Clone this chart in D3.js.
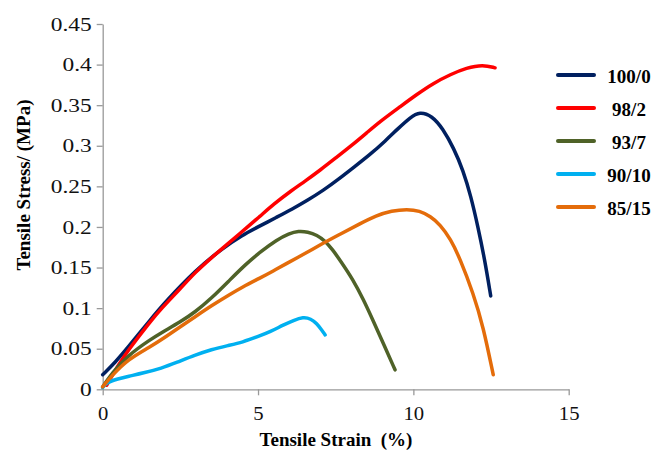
<!DOCTYPE html>
<html>
<head>
<meta charset="utf-8">
<script src="https://cdn.jsdelivr.net/npm/d3@7"></script>
<style>
    body { margin: 0; background: #fff; }
    svg { display: block; font-family: "Liberation Serif", "Times New Roman", serif; }
    .axis path, .axis line { stroke: #999; stroke-width: 1.3; }
    .axis text { font-family: "Liberation Serif", "Times New Roman", serif; font-size: 18px; fill: #111; }
</style>
</head>
<body>
<div id="chart"></div>
<script>
// series labels and colours (legend order)
const seriesNames = ['100/0', '98/2', '93/7', '90/10', '85/15'];
const seriesColors = ['#002060', '#ff0000', '#4f6228', '#00b0f0', '#e46c0a'];

// [strain %, stress MPa]
const pts100_0 = [[0, 0.018], [0.4, 0.033], [0.82, 0.052], [1.52, 0.085], [2, 0.107], [3, 0.147], [3.83, 0.173],
    [4.5, 0.19], [5, 0.2], [5.6, 0.212], [6.1, 0.222], [6.6, 0.233], [7.1, 0.245], [7.6, 0.259],
    [8.1, 0.274], [8.6, 0.289], [9.1, 0.306], [9.5, 0.321], [9.9, 0.335], [10.2, 0.342], [10.6, 0.337],
    [10.95, 0.321], [11.3, 0.297], [11.6, 0.27], [11.85, 0.238], [12.08, 0.2], [12.3, 0.159], [12.49, 0.115]];
const pts98_2 = [[0.13, 0.005], [0.5, 0.03], [0.82, 0.048], [1.52, 0.083], [1.9, 0.1], [2.5, 0.124], [3, 0.145],
    [3.5, 0.162], [3.83, 0.173], [4.3, 0.188], [4.6, 0.198], [5.06, 0.213], [5.5, 0.228], [6.08, 0.245], [6.5, 0.256],
    [7, 0.27], [7.5, 0.285], [8, 0.3], [8.5, 0.316], [8.93, 0.33], [9.57, 0.348], [10.1, 0.363], [10.64, 0.377],
    [11.2, 0.388], [11.71, 0.396], [12.24, 0.4], [12.63, 0.396]];
const pts93_7 = [[0, 0.003], [0.3, 0.02], [0.82, 0.042], [1.52, 0.061], [1.9, 0.07], [2.5, 0.083], [2.97, 0.095],
    [3.5, 0.112], [4.1, 0.135], [4.63, 0.155], [5.1, 0.17], [5.6, 0.184], [6, 0.192], [6.3, 0.195], [6.6, 0.194],
    [6.9, 0.19], [7.15, 0.183], [7.4, 0.172], [7.64, 0.159], [8.06, 0.135], [8.4, 0.11], [8.7, 0.085],
    [9.05, 0.055], [9.41, 0.024]];
const pts90_10 = [[0, 0.002], [0.1, 0.008], [0.5, 0.013], [0.82, 0.016], [1.3, 0.02], [1.9, 0.026], [2.38, 0.033],
    [2.97, 0.042], [3.5, 0.049], [4.04, 0.054], [4.5, 0.058], [5, 0.065], [5.4, 0.071], [5.8, 0.079], [6.15, 0.085],
    [6.45, 0.089], [6.7, 0.087], [6.89, 0.081], [7.05, 0.073], [7.16, 0.067]];
const pts85_15 = [[0, 0.003], [0.3, 0.017], [0.82, 0.037], [1.52, 0.052], [2, 0.064], [2.5, 0.077], [3, 0.09],
    [3.5, 0.103], [4.1, 0.117], [4.5, 0.126], [5.06, 0.137], [5.5, 0.146], [5.87, 0.154], [6.5, 0.167], [7, 0.178],
    [7.64, 0.191], [8.28, 0.204], [8.8, 0.214], [9.3, 0.22], [9.8, 0.222], [10.2, 0.22], [10.55, 0.213],
    [10.86, 0.203], [11.2, 0.185], [11.5, 0.161], [11.93, 0.118], [12.25, 0.077], [12.57, 0.018]];
const seriesPoints = [pts100_0, pts98_2, pts93_7, pts90_10, pts85_15];

// axis ticks
const xTicks = [0, 5, 10, 15];
const yTicks = [0, 0.05, 0.1, 0.15, 0.2, 0.25, 0.3, 0.35, 0.4, 0.45];
const yTickLabels = ['0', '0.05', '0.1', '0.15', '0.2', '0.25', '0.3', '0.35', '0.4', '0.45'];

const width = 655, height = 451;

const svg = d3.select('#chart').append('svg')
    .attr('width', width)
    .attr('height', height);

const x = d3.scaleLinear().domain([0, 15]).range([102.7, 568.7]);
const y = d3.scaleLinear().domain([0, 0.45]).range([389.3, 24]);

// x axis
const xAxis = svg.append('g')
    .attr('class', 'axis')
    .attr('transform', 'translate(0,' + y(0) + ')')
    .call(d3.axisBottom(x).tickValues(xTicks).tickSize(6).tickSizeOuter(0).tickFormat(d3.format('d')));
xAxis.selectAll('text')
    .attr('y', 31).attr('dy', 0)
    .attr('transform', 'scale(1.15,1)');

// y axis
const yAxis = svg.append('g')
    .attr('class', 'axis')
    .attr('transform', 'translate(' + x(0) + ',0)')
    .call(d3.axisLeft(y).tickValues(yTicks).tickSize(6).tickSizeOuter(0)
        .tickFormat((d, i) => yTickLabels[i]));
yAxis.selectAll('text')
    .attr('x', -11 / 1.3)
    .attr('dy', '0.34em')
    .attr('transform', 'scale(1.3,1)');

// curves
const line = d3.line()
    .x(d => x(d[0]))
    .y(d => y(d[1]))
    .curve(d3.curveBasis);

svg.append('g').selectAll('path')
    .data(seriesPoints)
    .join('path')
    .attr('d', line)
    .attr('fill', 'none')
    .attr('stroke', (d, i) => seriesColors[i])
    .attr('stroke-width', 3.5)
    .attr('stroke-linecap', 'round')
    .attr('stroke-linejoin', 'round');

// legend
const legend = svg.append('g');
seriesNames.forEach((name, i) => {
    const ly = 75 + i * 33;
    legend.append('line')
        .attr('x1', 558).attr('x2', 594)
        .attr('y1', ly).attr('y2', ly)
        .attr('stroke', seriesColors[i])
        .attr('stroke-width', 4)
        .attr('stroke-linecap', 'round');
    legend.append('text')
        .attr('x', 629).attr('y', ly + 8)
        .attr('text-anchor', 'middle')
        .style('font-size', '19px')
        .style('font-weight', 'bold')
        .text(name);
});

// axis titles
svg.append('text')
    .attr('x', 336).attr('y', 446)
    .attr('text-anchor', 'middle')
    .style('font-size', '19px')
    .style('font-weight', 'bold')
    .style('white-space', 'pre')
    .text('Tensile Strain  (%)');

svg.append('text')
    .attr('transform', 'translate(30,185) rotate(-90)')
    .attr('text-anchor', 'middle')
    .style('font-size', '19px')
    .style('font-weight', 'bold')
    .text('Tensile Stress/ (MPa)');
</script>
</body>
</html>
